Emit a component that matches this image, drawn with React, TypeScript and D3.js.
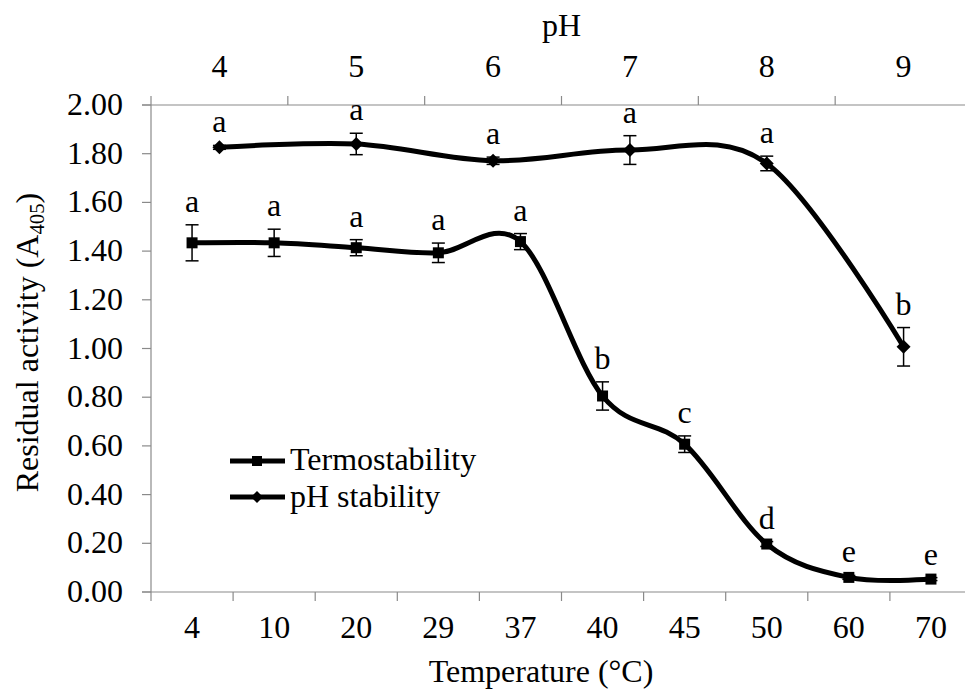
import React from "react";
import * as d3 from "d3";

const tempCategories = ["4", "10", "20", "29", "37", "40", "45", "50", "60", "70"];
const termoValues = [1.434, 1.434, 1.414, 1.393, 1.439, 0.805, 0.607, 0.197, 0.06, 0.053];
const termoErrors = [0.074, 0.056, 0.033, 0.04, 0.033, 0.058, 0.034, 0.01, 0.008, 0.006];
const termoLetters = ["a", "a", "a", "a", "a", "b", "c", "d", "e", "e"];

const phCategories = ["4", "5", "6", "7", "8", "9"];
const phValues = [1.826, 1.84, 1.771, 1.815, 1.76, 1.007];
const phErrors = [0.008, 0.044, 0.015, 0.059, 0.03, 0.079];
const phLetters = ["a", "a", "a", "a", "a", "b"];

const yTicks = [0, 0.2, 0.4, 0.6, 0.8, 1.0, 1.2, 1.4, 1.6, 1.8, 2.0];

const W = 965;
const H = 694;
const left = 151;
const right = 972;
const top = 105;
const bottom = 592;
const axisColor = "#8a8a8a";
const font = "Liberation Serif, Tinos, Times New Roman, DejaVu Serif, serif";
const fs = 32;

export default function App() {
  const y = d3.scaleLinear().domain([0, 2]).range([bottom, top]);
  const xT = d3.scaleBand<string>().domain(tempCategories).range([left, right]);
  const xP = d3.scaleBand<string>().domain(phCategories).range([left, right]);
  const cT = (c: string) => (xT(c) as number) + xT.bandwidth() / 2;
  const cP = (c: string) => (xP(c) as number) + xP.bandwidth() / 2;

  const line = d3
    .line<[number, number]>()
    .x((d) => d[0])
    .y((d) => d[1])
    .curve(d3.curveCardinal.tension(0));

  const termoPts: [number, number][] = tempCategories.map((c, i) => [cT(c), y(termoValues[i])]);
  const phPts: [number, number][] = phCategories.map((c, i) => [cP(c), y(phValues[i])]);

  const tBounds = tempCategories.map((c) => xT(c) as number).concat([right]);
  const pBounds = phCategories.map((c) => xP(c) as number).concat([right]);

  const square = (x: number, yy: number, s = 11) => (
    <rect x={x - s / 2} y={yy - s / 2} width={s} height={s} fill="#000" />
  );
  const diamond = (x: number, yy: number, s = 7) => (
    <path d={`M${x},${yy - s}L${x + s},${yy}L${x},${yy + s}L${x - s},${yy}Z`} fill="#000" />
  );
  const errBar = (x: number, v: number, e: number, key: string) => (
    <g key={key} stroke="#000" strokeWidth={1.5}>
      <line x1={x} x2={x} y1={y(v + e)} y2={y(v - e)} />
      <line x1={x - 6.5} x2={x + 6.5} y1={y(v + e)} y2={y(v + e)} />
      <line x1={x - 6.5} x2={x + 6.5} y1={y(v - e)} y2={y(v - e)} />
    </g>
  );
  const ts: React.CSSProperties = { fontFamily: font };

  return (
    <svg
      width={W}
      height={H}
      style={{ position: "absolute", left: 0, top: 0, background: "#fff", fontFamily: font }}
    >
      <rect width={W} height={H} fill="#fff" />
      {/* axes */}
      <g stroke={axisColor} strokeWidth={1.2} fill="none">
        <line x1={left - 9} x2={right} y1={bottom} y2={bottom} />
        <line x1={left - 9} x2={right} y1={top} y2={top} />
        <line x1={left} x2={left} y1={top} y2={bottom} />
        {yTicks.map((t) => (
          <line key={"yt" + t} x1={left - 9} x2={left} y1={y(t)} y2={y(t)} />
        ))}
        {tBounds.map((b, i) => (
          <line key={"tb" + i} x1={b} x2={b} y1={bottom} y2={bottom + 9} />
        ))}
        {pBounds.map((b, i) => (
          <line key={"pb" + i} x1={b} x2={b} y1={top} y2={top - 9} />
        ))}
      </g>
      {/* y tick labels */}
      {yTicks.map((t) => (
        <text key={"yl" + t} x={123} y={y(t) + 10} fontSize={fs} textAnchor="end" fill="#000" style={ts}>
          {t.toFixed(2)}
        </text>
      ))}
      {/* bottom tick labels */}
      {tempCategories.map((c) => (
        <text key={"tl" + c} x={cT(c)} y={638} fontSize={fs} textAnchor="middle" fill="#000" style={ts}>
          {c}
        </text>
      ))}
      {/* top tick labels */}
      {phCategories.map((c) => (
        <text key={"pl" + c} x={cP(c)} y={77} fontSize={fs} textAnchor="middle" fill="#000" style={ts}>
          {c}
        </text>
      ))}
      {/* titles */}
      <text x={541} y={682} fontSize={fs} textAnchor="middle" fill="#000" style={ts}>
        Temperature (°C)
      </text>
      <text x={(left + right) / 2} y={36} fontSize={fs} textAnchor="middle" fill="#000" style={ts}>
        pH
      </text>
      <text
        transform={`translate(38,${(top + bottom) / 2 - 6}) rotate(-90)`}
        fontSize={fs}
        textAnchor="middle"
        fill="#000"
        style={ts}
      >
        Residual activity (A
        <tspan fontSize={fs * 0.65} dy={6}>
          405
        </tspan>
        <tspan dy={-6}>)</tspan>
      </text>

      {/* error bars */}
      {tempCategories.map((c, i) => errBar(cT(c), termoValues[i], termoErrors[i], "te" + i))}
      {phCategories.map((c, i) => errBar(cP(c), phValues[i], phErrors[i], "pe" + i))}

      {/* lines */}
      <path d={line(termoPts) as string} fill="none" stroke="#000" strokeWidth={5} />
      <path d={line(phPts) as string} fill="none" stroke="#000" strokeWidth={5} />

      {/* markers */}
      {termoPts.map((p, i) => <g key={"tm" + i}>{square(p[0], p[1])}</g>)}
      {phPts.map((p, i) => <g key={"pm" + i}>{diamond(p[0], p[1])}</g>)}

      {/* letters */}
      {tempCategories.map((c, i) => (
        <text
          key={"tL" + i}
          x={cT(c)}
          y={y(termoValues[i] + termoErrors[i]) - 13}
          fontSize={fs}
          textAnchor="middle"
          fill="#000"
          style={ts}
        >
          {termoLetters[i]}
        </text>
      ))}
      {phCategories.map((c, i) => (
        <text
          key={"pL" + i}
          x={cP(c)}
          y={y(phValues[i] + phErrors[i]) - 13}
          fontSize={fs}
          textAnchor="middle"
          fill="#000"
          style={ts}
        >
          {phLetters[i]}
        </text>
      ))}

      {/* legend */}
      <line x1={230} x2={285} y1={461} y2={461} stroke="#000" strokeWidth={5} />
      {square(257, 461, 10)}
      <text x={290} y={470} fontSize={fs} fill="#000" style={ts}>
        Termostability
      </text>
      <line x1={230} x2={285} y1={497} y2={497} stroke="#000" strokeWidth={5} />
      {diamond(257, 497, 6)}
      <text x={290} y={507} fontSize={fs} fill="#000" style={ts}>
        pH stability
      </text>
    </svg>
  );
}
